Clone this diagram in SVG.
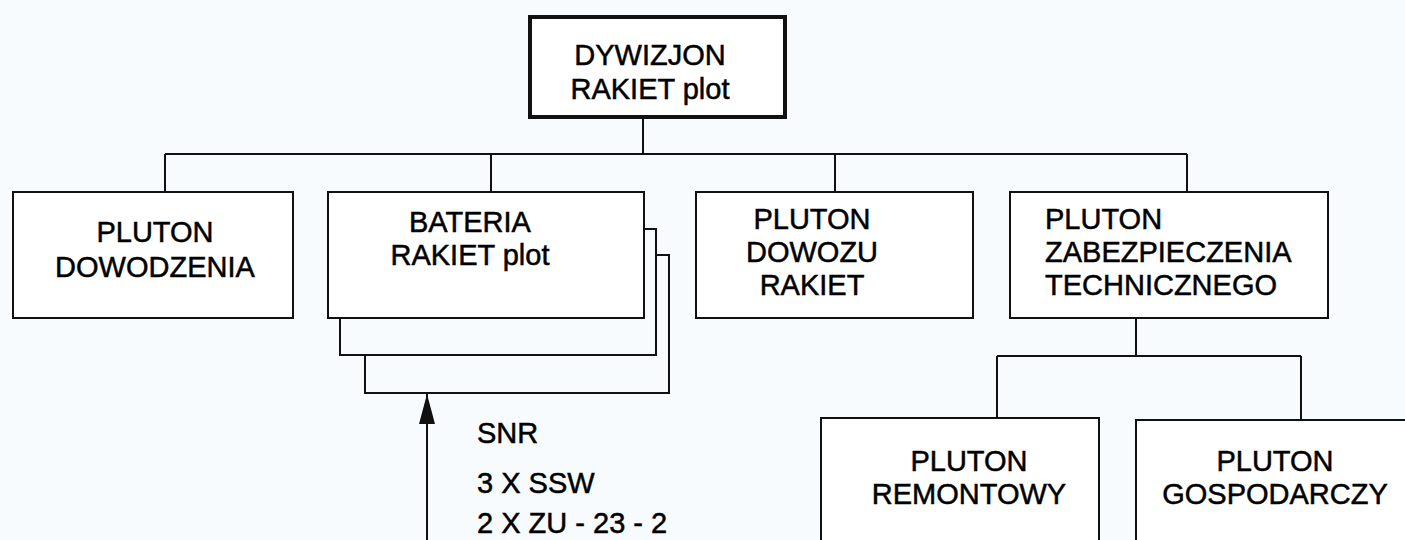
<svg xmlns="http://www.w3.org/2000/svg" width="1405" height="540" viewBox="0 0 1405 540">
<style>
.box{fill:#ffffff;stroke:#111;stroke-width:2}
.stack{fill:none;stroke:#111;stroke-width:2}
.top{fill:#ffffff;stroke:#111;stroke-width:4}
.ln{fill:none;stroke:#111;stroke-width:2}
text{font-family:"Liberation Sans",Arial,sans-serif;font-size:29px;fill:#000;stroke:#000;stroke-width:0.5}
.c{text-anchor:middle}
</style>
<defs>
<marker id="arr" markerWidth="30" markerHeight="16" refX="30" refY="8" orient="auto" markerUnits="userSpaceOnUse" viewBox="0 0 30 16">
<path d="M0,0 L30,8 L0,16 Z" fill="#111"/>
</marker>
</defs>
<rect x="0" y="0" width="1405" height="540" fill="#f7fbfd"/>
<g id="connectors">
<path class="ln" d="M643,117 V154 M165,154 H1187 M165,154 V192 M491,154 V192 M835,154 V192 M1187,154 V192"/>
<path class="ln" d="M1136,318 V356 M997,356 H1301 M997,356 V418 M1301,356 V420"/>
<line class="ln" x1="427" y1="540" x2="427" y2="394" marker-end="url(#arr)"/>
</g>
<g id="dywizjon">
<rect class="top" x="530" y="17" width="255" height="100"/>
<text class="c" x="650" y="65">DYWIZJON</text>
<text class="c" x="650" y="99">RAKIET plot</text>
</g>
<g id="pluton-dowodzenia">
<rect class="box" x="13" y="192" width="280" height="126"/>
<text class="c" x="155" y="242">PLUTON</text>
<text class="c" x="155" y="277">DOWODZENIA</text>
</g>
<g id="bateria">
<polyline class="stack" points="656,255 669,255 669,393 365,393 365,355"/>
<polyline class="stack" points="644,229 656,229 656,355 340,355 340,318"/>
<rect class="box" x="328" y="192" width="316" height="126"/>
<text class="c" x="470" y="232">BATERIA</text>
<text class="c" x="470" y="265">RAKIET plot</text>
</g>
<g id="pluton-dowozu">
<rect class="box" x="696" y="192" width="277" height="126"/>
<text class="c" x="812" y="229">PLUTON</text>
<text class="c" x="812" y="262">DOWOZU</text>
<text class="c" x="812" y="295">RAKIET</text>
</g>
<g id="pluton-zabezpieczenia">
<rect class="box" x="1010" y="192" width="318" height="126"/>
<text x="1045" y="229">PLUTON</text>
<text x="1045" y="262">ZABEZPIECZENIA</text>
<text x="1045" y="295">TECHNICZNEGO</text>
</g>
<g id="sklad">
<text x="477" y="443">SNR</text>
<text x="477" y="493">3 X SSW</text>
<text x="477" y="533">2 X ZU - 23 - 2</text>
</g>
<g id="pluton-remontowy">
<rect class="box" x="821" y="418" width="278" height="140"/>
<text class="c" x="969" y="471">PLUTON</text>
<text class="c" x="969" y="504">REMONTOWY</text>
</g>
<g id="pluton-gospodarczy">
<rect class="box" x="1136" y="420" width="280" height="140"/>
<text class="c" x="1275" y="471">PLUTON</text>
<text class="c" x="1275" y="504">GOSPODARCZY</text>
</g>
</svg>
